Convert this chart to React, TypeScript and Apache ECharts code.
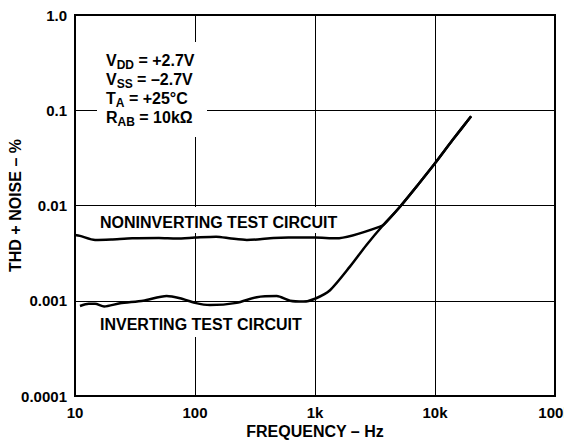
import React, { useEffect, useRef } from "react";
import * as echarts from "echarts";

// Frequencies (Hz) and THD+N (%)
const freqNonInv = [10, 11, 14.7, 20, 30, 50, 70, 100, 150, 200, 270, 330, 450, 600, 1000, 1500, 3600, 4100, 5110, 7244, 10000, 14000, 20000];
const thdNonInv = [0.0049, 0.0048, 0.00435, 0.0044, 0.00452, 0.00455, 0.0045, 0.0046, 0.0047, 0.0045, 0.00435, 0.0044, 0.00455, 0.0046, 0.0046, 0.00452, 0.0061, 0.0071, 0.0097, 0.0166, 0.0277, 0.0486, 0.0865];

const freqInv = [11, 13, 14.7, 17.5, 23.7, 37, 58, 75, 100, 133, 222, 327, 480, 620, 800, 1000, 1334, 1954, 2686, 3707, 5110, 7244, 10000, 14000, 20000];
const thdInv = [0.00088, 0.00093, 0.00093, 0.00087, 0.00094, 0.001, 0.00112, 0.00106, 0.00095, 0.0009, 0.00095, 0.00109, 0.00112, 0.001, 0.00098, 0.00105, 0.00129, 0.00228, 0.00385, 0.00624, 0.0097, 0.0166, 0.0277, 0.0486, 0.0865];

const xTickValues = [10, 100, 1000, 10000, 100000];
const xTickLabels = ["10", "100", "1k", "10k", "100k"];
const yTickValues = [0.0001, 0.001, 0.01, 0.1, 1];
const yTickLabels = ["0.0001", "0.001", "0.01", "0.1", "1.0"];

const seriesNames = ["NONINVERTING TEST CIRCUIT", "INVERTING TEST CIRCUIT"];

const FONT = '"Liberation Sans", Arial, Helvetica, sans-serif';
const INK = "#000";

function labelFor(values: number[], labels: string[], v: number): string {
  for (let i = 0; i < values.length; i++) {
    if (Math.abs(Math.log10(v) - Math.log10(values[i])) < 1e-6) return labels[i];
  }
  return "";
}

export default function App() {
  const ref = useRef<HTMLDivElement>(null);
  useEffect(() => {
    if (!ref.current) return;
    const chart = echarts.init(ref.current, undefined, { renderer: "svg" });
    const nonInv = freqNonInv.map((f, i) => [f, thdNonInv[i]]);
    const inv = freqInv.map((f, i) => [f, thdInv[i]]);
    chart.setOption({
      animation: false,
      backgroundColor: "#fff",
      textStyle: { fontFamily: FONT },
      grid: {
        left: 75,
        right: 9,
        top: 15,
        bottom: 44,
        containLabel: false,
        outerBoundsMode: "none",
        show: true,
        borderColor: INK,
        borderWidth: 2,
        backgroundColor: "transparent",
      },
      xAxis: {
        type: "log",
        logBase: 10,
        min: 10,
        max: 100000,
        name: "FREQUENCY – Hz",
        nameLocation: "middle",
        nameGap: 27,
        nameMoveOverlap: false,
        nameTextStyle: { fontFamily: FONT, fontWeight: "bold", fontSize: 16, color: INK },
        axisLine: { show: true, lineStyle: { color: INK, width: 2 } },
        axisTick: { show: false },
        splitLine: { show: true, lineStyle: { color: INK, width: 1 } },
        axisLabel: {
          margin: 9,
          fontFamily: FONT,
          fontWeight: "bold",
          fontSize: 15,
          color: INK,
          formatter: (v: number) => labelFor(xTickValues, xTickLabels, v),
        },
      },
      yAxis: {
        type: "log",
        logBase: 10,
        min: 0.0001,
        max: 1,
        name: "THD + NOISE – %",
        nameLocation: "middle",
        nameGap: 52,
        nameMoveOverlap: false,
        nameTextStyle: { fontFamily: FONT, fontWeight: "bold", fontSize: 16, color: INK },
        axisLine: { show: true, lineStyle: { color: INK, width: 2 } },
        axisTick: { show: false },
        splitLine: { show: true, lineStyle: { color: INK, width: 1 } },
        axisLabel: {
          margin: 8,
          fontFamily: FONT,
          fontWeight: "bold",
          fontSize: 15,
          color: INK,
          formatter: (v: number) => labelFor(yTickValues, yTickLabels, v),
        },
      },
      series: [
        {
          name: seriesNames[0],
          type: "line",
          data: nonInv,
          showSymbol: false,
          smooth: 0.25,
          z: 3,
          lineStyle: { color: INK, width: 2.5 },
        },
        {
          name: seriesNames[1],
          type: "line",
          data: inv,
          showSymbol: false,
          smooth: 0.25,
          z: 3,
          lineStyle: { color: INK, width: 2.5 },
        },
      ],
      graphic: [
        { type: "rect", z: 1, shape: { x: 97, y: 42, width: 110, height: 95 }, style: { fill: "#fff" } },
        { type: "rect", z: 1, shape: { x: 98, y: 207, width: 241, height: 26 }, style: { fill: "#fff" } },
        { type: "rect", z: 1, shape: { x: 98, y: 302, width: 205, height: 35 }, style: { fill: "#fff" } },
        {
          type: "text",
          z: 4,
          x: 100,
          y: 222,
          style: {
            text: seriesNames[0],
            fill: INK,
            font: `bold 16px ${FONT}`,
            verticalAlign: "middle",
            align: "left",
          },
        },
        {
          type: "text",
          z: 4,
          x: 100,
          y: 324,
          style: {
            text: seriesNames[1],
            fill: INK,
            font: `bold 16px ${FONT}`,
            verticalAlign: "middle",
            align: "left",
          },
        },
        {
          type: "text",
          z: 4,
          x: 106,
          y: 52,
          style: {
            text:
              "{m|V}{s|DD}{m| = +2.7V}\n{m|V}{s|SS}{m| = –2.7V}\n{m|T}{s|A}{m| = +25°C}\n{m|R}{s|AB}{m| = 10kΩ}",
            align: "left",
            verticalAlign: "top",
            fill: INK,
            rich: {
              m: { fontFamily: FONT, fontWeight: "bold", fontSize: 16, lineHeight: 19, verticalAlign: "top", fill: INK },
              s: { fontFamily: FONT, fontWeight: "bold", fontSize: 12, verticalAlign: "bottom", fill: INK },
            },
          },
        },
      ],
    });
    return () => chart.dispose();
  }, []);
  return (
    <div
      ref={ref}
      style={{ position: "fixed", left: 0, top: 0, width: 564, height: 440 }}
    />
  );
}
